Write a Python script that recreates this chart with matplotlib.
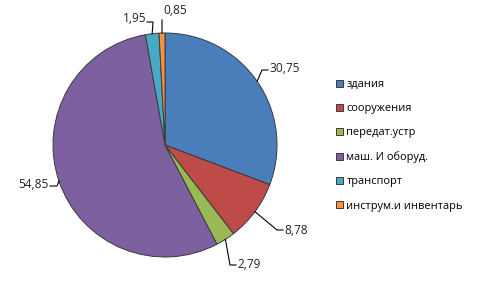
import matplotlib
matplotlib.use('Agg')
import matplotlib.pyplot as plt
import numpy as np

plt.rcParams['font.family'] = ['Open Sans', 'DejaVu Sans']

categories = ['здания', 'сооружения', 'передат.устр', 'маш. И оборуд.',
              'транспорт', 'инструм.и инвентарь']
values = [30.75, 8.78, 2.79, 54.85, 1.95, 0.85]
colors = ['#4A7EBB', '#BE4B48', '#98B954', '#7D60A0', '#46AAC5', '#F69240']

W, H = 482, 289
cx, cy, r = 165, 145, 112   # pie centre / radius in pixels

# leader line elbow + text anchor (pixels), text alignment
label_layout = [
    ((262, 70), (268, 70), (269, 69), 'left'),
    ((277, 230), (283, 230), (284, 230), 'left'),
    ((230, 265), (236, 265), (237, 265), 'left'),
    ((57, 186), (50, 186), (49, 185), 'right'),
    ((153, 22), (147, 22), (146, 19), 'right'),
    ((162, 20), (162, 20), (163, 11), 'left'),
]


def to_data(p):
    return ((p[0] - cx) / r, (cy - p[1]) / r)


fig = plt.figure(figsize=(W / 100, H / 100), dpi=100)
ax = fig.add_axes([(cx - r) / W, (H - cy - r) / H, 2 * r / W, 2 * r / H])

wedges, _ = ax.pie(values, colors=colors, startangle=90, counterclock=False,
                   radius=1, wedgeprops=dict(edgecolor='#3a3a3a', linewidth=0.7))
ax.set_xlim(-1, 1)
ax.set_ylim(-1, 1)
ax.set_aspect('equal')
ax.axis('off')

for w, v, (elbow, end, tpos, ha) in zip(wedges, values, label_layout):
    ang = np.deg2rad((w.theta1 + w.theta2) / 2)
    p0 = (np.cos(ang), np.sin(ang))
    p1 = to_data(elbow)
    p2 = to_data(end)
    ax.plot([p0[0], p1[0], p2[0]], [p0[1], p1[1], p2[1]], color='black',
            lw=0.8, clip_on=False)
    t = to_data(tpos)
    ax.text(t[0], t[1], ('%.2f' % v).replace('.', ','), ha=ha, va='center',
            fontsize=8.6, color='#222222', clip_on=False)

fig.legend(wedges, categories, loc='upper left',
           bbox_to_anchor=(336 / W, 1 - 79 / H), frameon=False,
           fontsize=7.9, handlelength=0.6, handleheight=0.6,
           handletextpad=0.35, labelspacing=1.2, borderpad=0,
           borderaxespad=0)

fig.savefig('out.png', dpi=100)
